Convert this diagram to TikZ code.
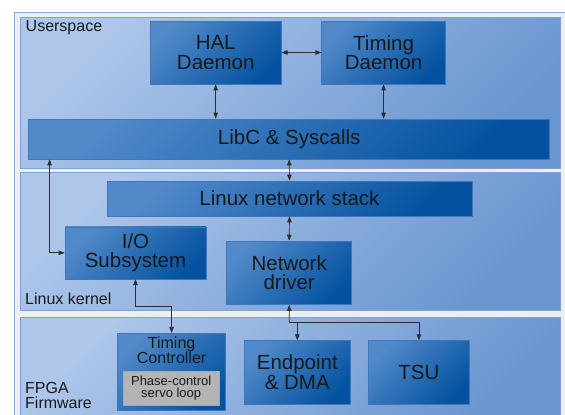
\documentclass[tikz,border=0pt]{standalone}
\usepackage{fontspec}
\setmainfont{Liberation Sans}
\usetikzlibrary{arrows.meta}
\definecolor{panelhi}{HTML}{ADC6EA}
\definecolor{panello}{HTML}{6A96D0}
\definecolor{panelline}{HTML}{7FA2D6}
\definecolor{boxhi}{HTML}{5189C9}
\definecolor{boxlo}{HTML}{0553A0}
\definecolor{boxline}{HTML}{3F76BE}
\definecolor{framefill}{HTML}{EEEEEE}
\definecolor{frameline}{HTML}{8AA9D9}
\definecolor{servo}{HTML}{B4B4B4}
\definecolor{wire}{HTML}{2E2E2E}
\begin{document}
\begin{tikzpicture}[x=1pt,y=-1pt,
    panel/.style={draw=panelline,line width=0.6pt,top color=panelhi,bottom color=panello,shading angle=45},
    blk/.style={draw=boxline,line width=0.6pt,top color=boxhi,bottom color=boxlo,shading angle=45,
      align=center,inner sep=0pt,text=black!90,font=\fontsize{20.5}{19.5}\selectfont},
    tag/.style={anchor=west,align=left,inner sep=0pt,text=black!90,font=\fontsize{16}{14.8}\selectfont},
    wires/.style={draw=wire,line width=0.7pt,>={Triangle[length=6pt,width=4.5pt]},<->}]
  \useasboundingbox (0,0) rectangle (565,415);
  \draw[fill=framefill,draw=frameline,line width=0.8pt] (14,12) rectangle (575,425);
  \path[panel] (20.5,17) rectangle (560.5,168.5);
  \path[panel] (20.5,172) rectangle (560.5,310.5);
  \path[panel] (20.5,317) rectangle (560.5,425);
  \node[tag] (user) at (25.5,27.5) {Userspace};
  \node[tag] (kernel) at (25,299) {Linux kernel};
  \node[tag] (fpga) at (25,395.5) {FPGA\\Firmware};
  \node[blk,minimum width=131pt,minimum height=63pt] (hal) at (215.7,52.5) {HAL\\Daemon};
  \node[blk,minimum width=124pt,minimum height=63pt] (timingd) at (383.6,52.5) {Timing\\Daemon};
  \node[blk,minimum width=521pt,minimum height=40pt] (libc) at (289.2,139) {LibC \& Syscalls};
  \node[blk,minimum width=365pt,minimum height=35pt] (netstack) at (289.5,198.5) {Linux network stack};
  \node[blk,minimum width=141pt,minimum height=52pt] (io) at (135.5,252.8) {I/O\\Subsystem};
  \node[blk,minimum width=125pt,minimum height=63.5pt] (netdrv) at (289.2,272.8) {Network\\driver};
  \node[blk,minimum width=108pt,minimum height=77.5pt] (timingc) at (171.6,372) {};
  \node[tag,anchor=north,align=center,font=\fontsize{16}{15}\selectfont] (timingctext) at ([yshift=-4pt]timingc.north) {Timing\\Controller};
  \node[draw=boxline!60,line width=0.5pt,fill=servo,minimum width=95.5pt,minimum height=33.3pt,inner sep=0pt,
    align=center,text=black!90,font=\fontsize{13}{12.3}\selectfont] (phase) at (171.2,388.3) {Phase-control\\servo loop};
  \node[blk,minimum width=106.6pt,minimum height=63.3pt] (endpoint) at (297.3,372.3) {Endpoint\\\& DMA};
  \node[blk,minimum width=101.2pt,minimum height=63.3pt] (tsu) at (418.9,372.3) {TSU};
  \coordinate (split) at (289.3,322.3);
  \begin{scope}[wires]
    \draw (hal) to (timingd);
    \draw (hal.south) to (hal.south |- libc.north);
    \draw (timingd.south) to (timingd.south |- libc.north);
    \draw (libc.south) to (netstack.north);
    \draw (netstack.south) to (netdrv.north);
    \draw ([xshift=21.2pt]libc.south west) |- (io.west);
    \draw (io.south) -- ++(0,27) -| (timingc.north);
    \draw[<-] (netdrv.south) -- (split);
    \draw[->] (split) -| (endpoint.north);
    \draw[->] (split) -| (tsu.north);
  \end{scope}
\end{tikzpicture}
\end{document}
